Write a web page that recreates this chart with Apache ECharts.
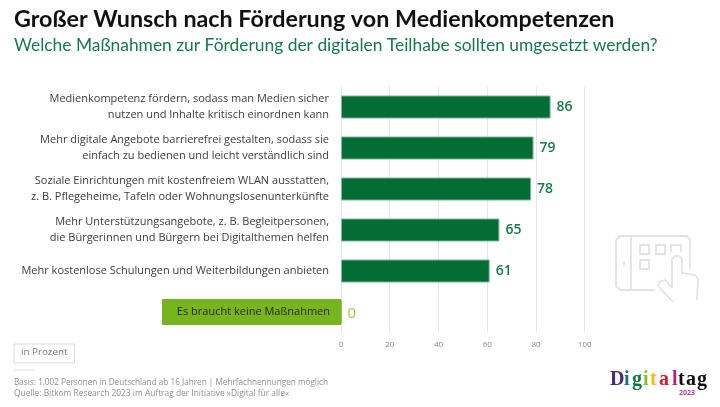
<!DOCTYPE html>
<html>
<head>
<meta charset="utf-8">
<style>html,body{margin:0;padding:0;background:#fff}#chart{width:720px;height:407px}</style>
<script src="https://cdn.jsdelivr.net/npm/echarts@6/dist/echarts.min.js"></script>
</head>
<body>
<div id="chart"></div>
<script>
const categories = [
  'Medienkompetenz fördern, sodass man Medien sicher\nnutzen und Inhalte kritisch einordnen kann',
  'Mehr digitale Angebote barrierefrei gestalten, sodass sie\neinfach zu bedienen und leicht verständlich sind',
  'Soziale Einrichtungen mit kostenfreiem WLAN ausstatten,\nz. B. Pflegeheime, Tafeln oder Wohnungslosenunterkünfte',
  'Mehr Unterstützungsangebote, z. B. Begleitpersonen,\ndie Bürgerinnen und Bürgern bei Digitalthemen helfen',
  'Mehr kostenlose Schulungen und Weiterbildungen anbieten',
  'Es braucht keine Maßnahmen'
]
const values = [86, 79, 78, 65, 61, 0]
const tickMax = 100
const tickStep = 20
const logoLetters = ['D', 'i', 'g', 'i', 't', 'a', 'l', 't', 'a', 'g']
const logoColors = ['#4b2a7d', '#1f6f8f', '#0a7a3e', '#8dbb25', '#f2b90f', '#d3202e', '#b3257f', '#111', '#111', '#111']
const logoOffsets = [610, 624, 632, 643, 650, 659, 672, 678, 686, 697]

const font = '"Open Sans", "Noto Sans", sans-serif'
const headFont = 'Lato, "Open Sans", sans-serif'
const darkGreen = '#046c35'
const lightGreen = '#78b41e'
const iconColor = '#e3e3e3'

const iconLine = { stroke: iconColor, lineWidth: 1.8, fill: null }
const iconGraphics = [
  { type: 'polyline', shape: { points: [[655, 290], [620, 290], [616, 286], [616, 240], [620, 236], [687, 236], [690, 240], [690, 269]] }, style: iconLine },
  { type: 'line', shape: { x1: 631, y1: 237, x2: 631, y2: 290 }, style: iconLine },
  { type: 'line', shape: { x1: 624, y1: 261, x2: 624, y2: 266 }, style: iconLine },
  { type: 'rect', shape: { x: 640, y: 245, width: 9, height: 9 }, style: iconLine },
  { type: 'rect', shape: { x: 656, y: 245, width: 9, height: 9 }, style: iconLine },
  { type: 'polyline', shape: { points: [[671, 252], [671, 245], [681, 245], [681, 252]] }, style: iconLine },
  { type: 'rect', shape: { x: 640, y: 260, width: 9, height: 9 }, style: iconLine },
  { type: 'polyline', shape: { points: [[672, 288], [672, 259], [675, 256], [679, 256], [682, 259], [682, 273], [695, 275], [698, 279], [697, 300]] }, style: iconLine },
  { type: 'polyline', shape: { points: [[672, 288], [665, 280], [659, 282], [658, 286], [673, 302]] }, style: iconLine }
]

const logoGraphics = logoLetters.map((ch, i) => ({
  type: 'text',
  x: logoOffsets[i],
  y: 370,
  style: { text: ch, fill: logoColors[i], font: 'bold 20px "Liberation Serif", serif' }
}))

// every label line gets the right padding, so the last label can touch the axis
const labelFormatter = (v, i) => {
  if (i === categories.length - 1) return '{none|' + v + '}'
  return v.split('\n').map(line => '{txt|' + line + '}').join('\n')
}

const chart = echarts.init(document.getElementById('chart'))
chart.setOption({
  animation: false,
  backgroundColor: '#fff',
  grid: { left: 341, top: 86.5, width: 243.7, height: 246, containLabel: false },
  xAxis: {
    type: 'value',
    min: 0,
    max: tickMax,
    interval: tickStep,
    axisLine: { show: false },
    axisTick: { show: false },
    splitLine: { lineStyle: { color: '#e6e6e6', width: 1 } },
    axisLabel: { color: '#8c8c8c', fontSize: 8, fontFamily: font, margin: 8 }
  },
  yAxis: {
    type: 'category',
    inverse: true,
    data: categories,
    axisLine: { show: false },
    axisTick: { show: false },
    splitLine: { show: false },
    axisLabel: {
      margin: 0,
      align: 'right',
      formatter: labelFormatter,
      rich: {
        txt: {
          color: '#3c3c3c',
          fontSize: 11,
          fontFamily: font,
          lineHeight: 15.5,
          align: 'right',
          padding: [0, 12, 0, 0]
        },
        none: {
          color: '#1f2a10',
          fontSize: 11,
          fontFamily: font,
          backgroundColor: lightGreen,
          align: 'right',
          width: 168,
          height: 26,
          lineHeight: 26,
          padding: [0, 11, 0, 0]
        }
      }
    }
  },
  series: [{
    type: 'bar',
    data: values.map((v, i) => (i === values.length - 1
      ? { value: v, itemStyle: { borderColor: lightGreen }, label: { color: '#9ccb4a', fontWeight: 'normal', offset: [0, 2], fontSize: 15 } }
      : { value: v, label: { color: '#1a7a48', fontWeight: 600 } })),
    barWidth: 23,
    itemStyle: { color: darkGreen, borderColor: '#7db598', borderWidth: 1 },
    label: { show: true, position: 'right', distance: 6, fontSize: 14, fontFamily: font }
  }],
  graphic: [
    { type: 'text', x: 14, y: 8, style: { text: 'Großer Wunsch nach Förderung von Medienkompetenzen', fill: '#111', font: 'bold 23.3px ' + headFont } },
    { type: 'text', x: 14, y: 37, style: { text: 'Welche Maßnahmen zur Förderung der digitalen Teilhabe sollten umgesetzt werden?', fill: '#17794a', font: '17.4px ' + headFont } },
    { type: 'rect', shape: { x: 14, y: 344, width: 60.5, height: 19 }, style: { fill: '#fff', stroke: '#dcdcdc', lineWidth: 1 } },
    { type: 'text', x: 21, y: 347, style: { text: 'in Prozent', fill: '#777', font: '9.8px ' + font } },
    { type: 'line', shape: { x1: 14, y1: 370, x2: 34, y2: 370 }, style: { stroke: '#dcdcdc', lineWidth: 1 } },
    { type: 'text', x: 14, y: 379, style: { text: 'Basis: 1.002 Personen in Deutschland ab 16 Jahren | Mehrfachnennungen möglich', fill: '#8f8f8f', font: '8.2px ' + font } },
    { type: 'text', x: 14, y: 390, style: { text: 'Quelle: Bitkom Research 2023 im Auftrag der Initiative »Digital für alle«', fill: '#8f8f8f', font: '8.4px ' + font } },
    { type: 'text', x: 679, y: 389, style: { text: '2023', fill: '#b3408f', font: 'bold 7px ' + font } },
    ...iconGraphics,
    ...logoGraphics
  ]
})
</script>
</body>
</html>
